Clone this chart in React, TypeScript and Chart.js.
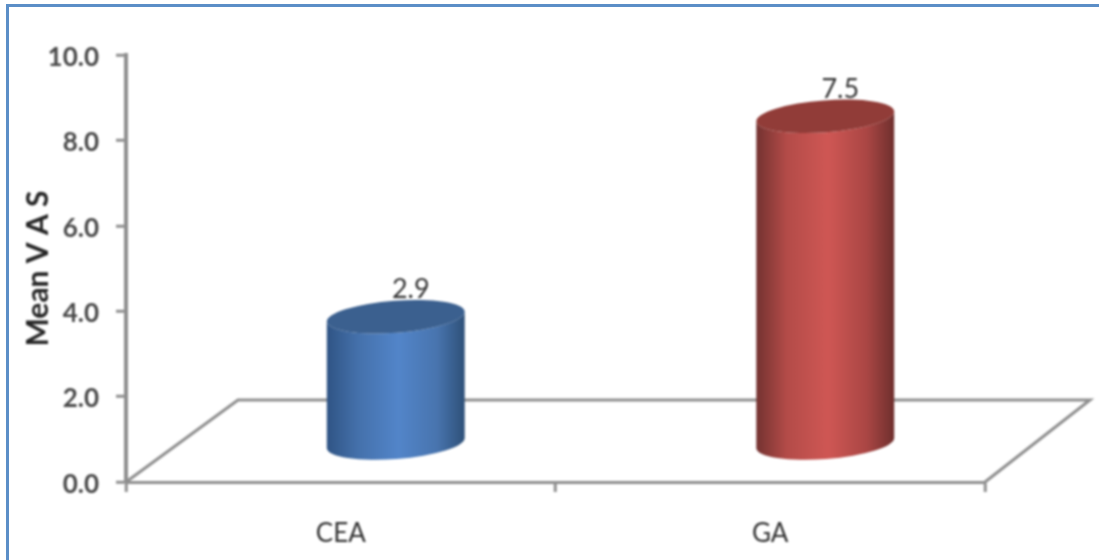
import React, { useEffect, useRef } from "react";
import { Chart, registerables } from "chart.js";

Chart.register(...registerables);

const categories = ["CEA", "GA"];
const meanVas = [2.9, 7.5];
const bodyStops = [
  ["#2f5484", "#4470aa", "#5285c9", "#4874ae", "#2e5078"],
  ["#733230", "#b34b48", "#cf5754", "#aa4644", "#6e2f2d"],
];
const capColors = ["#3b608f", "#913c38"];
const AXIS = "#8f8f8f";

const cylinders = {
  id: "cylinders",
  beforeDraw(chart: any) {
    const s = chart.scales.y;
    if (s.$shifted) return;
    s.$shifted = true;
    s.getLabelItems().forEach((it: any) => {
      it.textOffset += 2.5;
    });
  },
  beforeDatasetsDraw(chart: any) {
    const { ctx, chartArea: a } = chart;
    const dx = 112;
    const dy = -82;
    ctx.save();
    ctx.strokeStyle = AXIS;
    ctx.lineWidth = 3;
    ctx.beginPath();
    ctx.moveTo(a.left, a.bottom);
    ctx.lineTo(a.left + dx, a.bottom + dy);
    ctx.lineTo(a.right + dx - 7, a.bottom + dy);
    ctx.lineTo(a.right, a.bottom);
    ctx.stroke();
    ctx.restore();
  },
  afterDatasetsDraw(chart: any) {
    const { ctx, scales } = chart;
    const meta = chart.getDatasetMeta(0);
    const y0 = scales.y.getPixelForValue(0);
    meta.data.forEach((bar: any, i: number) => {
      const cx = bar.x + 55;
      const rx = bar.width / 2;
      const ry = 16;
      const tilt = -0.075;
      const base = y0 - 39;
      const top = base + (bar.y - y0) * 1.02;
      const g = ctx.createLinearGradient(cx - rx, 0, cx + rx, 0);
      const stops = bodyStops[i];
      [0, 0.22, 0.52, 0.8, 1].forEach((p, k) => g.addColorStop(p, stops[k]));
      ctx.save();
      ctx.fillStyle = g;
      ctx.beginPath();
      ctx.ellipse(cx, base, rx, ry, tilt, 0, Math.PI);
      ctx.ellipse(cx, top, rx, ry, tilt, Math.PI, 0, true);
      ctx.closePath();
      ctx.fill();
      ctx.fillStyle = capColors[i];
      ctx.beginPath();
      ctx.ellipse(cx, top, rx, ry, tilt, 0, Math.PI * 2);
      ctx.fill();
      ctx.fillStyle = "#333333";
      ctx.font = "27px Lato";
      ctx.textAlign = "center";
      ctx.textBaseline = "middle";
      ctx.fillText(meanVas[i].toFixed(1), bar.x + 70, top - 27);
      ctx.restore();
    });
  },
};

export default function App() {
  const ref = useRef<HTMLCanvasElement>(null);
  useEffect(() => {
    document.body.style.margin = "0";
    const chart = new Chart(ref.current as HTMLCanvasElement, {
      type: "bar",
      data: {
        labels: categories,
        datasets: [
          {
            label: "Mean V A S",
            data: meanVas,
            backgroundColor: "rgba(0,0,0,0)",
            barPercentage: 0.322,
            categoryPercentage: 1,
          },
        ],
      },
      options: {
        responsive: false,
        animation: false,
        layout: { padding: { top: 55, right: 114, left: 0, bottom: 0 } },
        plugins: { legend: { display: false }, tooltip: { enabled: false } },
        scales: {
          x: {
            afterFit(s: any) {
              s.height = 78;
            },
            grid: { drawOnChartArea: false, color: AXIS, lineWidth: 2.5, tickLength: 10, tickWidth: 3 },
            border: { color: AXIS, width: 3 },
            ticks: { color: "#333333", font: { family: "Lato", size: 26 }, padding: 26, maxRotation: 0 },
          },
          y: {
            min: 0,
            max: 10,
            afterFit(s: any) {
              s.width = 126;
            },
            grid: { drawOnChartArea: false, color: AXIS, lineWidth: 2.5, tickLength: 10, tickWidth: 3 },
            border: { color: AXIS, width: 4 },
            ticks: {
              stepSize: 2,
              color: "#484848",
              padding: 17,
              font: { family: "Lato", size: 26, weight: "bold" },
              callback: (v: any) => Number(v).toFixed(1),
            },
            title: {
              display: true,
              text: "Mean V A S",
              color: "#262626",
              font: { family: "Lato", size: 30, weight: "bold" },
              padding: { top: 20, bottom: 0 },
            },
          },
        },
      },
      plugins: [cylinders],
    } as any);
    return () => chart.destroy();
  }, []);
  return (
    <div style={{ position: "relative", width: 1099, height: 560, overflow: "hidden", background: "#fff" }}>
      <canvas ref={ref} width={1099} height={560} style={{ display: "block", filter: "blur(1px)" }} />
      <div
        style={{
          position: "absolute",
          left: 6,
          top: 4,
          width: 1093,
          height: 560,
          boxSizing: "border-box",
          borderTop: "3px solid #5b8ec7",
          borderLeft: "3px solid #5b8ec7",
        }}
      />
    </div>
  );
}
